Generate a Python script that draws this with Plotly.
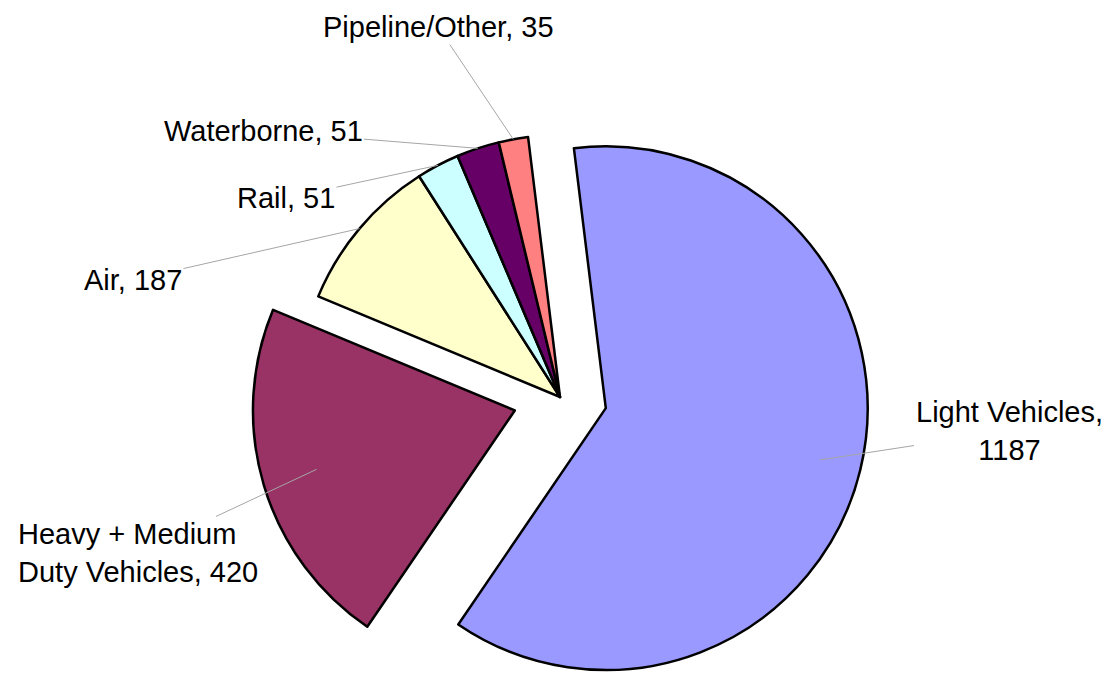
import math
import plotly.graph_objects as go

# ---- data ----
labels = ["Light Vehicles", "Heavy + Medium Duty Vehicles", "Air", "Rail", "Waterborne", "Pipeline/Other"]
label_text = ["Light Vehicles,<br>", "Heavy + Medium<br>Duty Vehicles, ", "Air, ", "Rail, ", "Waterborne, ", "Pipeline/Other, "]
values = [1187, 420, 187, 51, 51, 35]

# ---- styles / layout ----
colors = ["#9999FF", "#993366", "#FFFFCC", "#CCFFFF", "#660066", "#FF8080"]
pulls = [0.18, 0.18, 0, 0, 0, 0]
rotation = -7
# label centres (figure pixels)
label_pos = [(1001, 423), (130, 545), (125, 272), (278, 190), (255, 123), (430, 19)]
anchor_frac = [0.84, 0.79, 1.0, 1.0, 1.0, 1.0]
label_align = ["center", "left", "center", "center", "center", "center"]

W, H = 1111, 698
mt, mb, ml, mr = 80, 0, 0, 0
dom_x = [0.0, 0.9937]
plot_w = W - ml - mr
plot_h = H - mt - mb
max_pull = max(pulls)
r = min(plot_w * (dom_x[1] - dom_x[0]), plot_h) / 2 / (1 + max_pull)
cx = ml + plot_w * (dom_x[0] + dom_x[1]) / 2
cy = mt + plot_h / 2

fig = go.Figure(go.Pie(
    labels=labels, values=values, sort=False, direction="clockwise", rotation=rotation,
    pull=pulls, textinfo="none", hoverinfo="label+value",
    marker=dict(colors=colors, line=dict(color="#000000", width=2.5)),
    domain=dict(x=dom_x, y=[0, 1]), showlegend=False,
))

total = sum(values)
start = float(rotation)
annotations = []
for i, v in enumerate(values):
    span = v / total * 360.0
    mid = math.radians(start + span / 2)
    start += span
    pcx = cx + pulls[i] * r * math.sin(mid)
    pcy = cy - pulls[i] * r * math.cos(mid)
    axp = pcx + anchor_frac[i] * r * math.sin(mid)
    ayp = pcy - anchor_frac[i] * r * math.cos(mid)
    lx, ly = label_pos[i]
    annotations.append(dict(
        x=(axp - ml) / plot_w, y=1 - (ayp - mt) / plot_h, xref="paper", yref="paper",
        text=f"{label_text[i]}{v}", showarrow=True, arrowhead=0, arrowwidth=1,
        arrowcolor="#A6A6A6", standoff=0, startstandoff=0,
        ax=lx - axp, ay=ly - ayp, align=label_align[i],
        font=dict(family="Liberation Sans, Arial, sans-serif", size=29, color="#000000"),
    ))

fig.update_layout(
    width=W, height=H, margin=dict(l=ml, r=mr, t=mt, b=mb),
    paper_bgcolor="white", plot_bgcolor="white", annotations=annotations,
)
fig.write_html("out.html")
